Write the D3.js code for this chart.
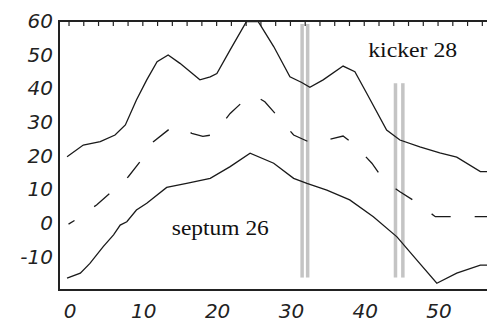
<!DOCTYPE html>
<html>
<head>
<meta charset="utf-8">
<script src="https://cdn.jsdelivr.net/npm/d3@7"></script>
<style>
  body { margin: 0; background: #fff; }
  svg { display: block; }
</style>
</head>
<body>
<div id="chart"></div>
<script>
// values
var kickerX = [-0.2, 2.0, 4.3, 6.3, 7.7, 9.2, 10.6, 12.0, 13.5, 15.1, 17.8, 19.2, 20.1, 21.9, 24.1, 25.7, 26.0, 27.8, 30.0, 31.6, 32.7, 34.5, 37.2, 38.8, 40.4, 43.1, 44.9, 47.6, 50.3, 52.6, 55.8, 56.7]
var kickerY = [19.6, 23.1, 24.1, 26.1, 29.1, 36.5, 42.5, 47.9, 49.9, 47.4, 42.5, 43.4, 44.4, 51.4, 59.8, 59.8, 58.8, 52.4, 43.4, 41.7, 40.3, 42.5, 46.6, 44.9, 38.5, 27.6, 24.6, 22.6, 20.8, 19.5, 15.2, 15.2]

var middleX = [0, 0.9, 3.8, 5.6, 8.1, 9.7, 11.5, 13.8, 15.2, 16.7, 18.2, 19.4, 20.1, 21.9, 24.1, 25.3, 26.6, 28.4, 30.5, 33.0, 35.9, 37.2, 38.8, 41.1, 42.7, 44.9, 47.0, 49.7, 51.9, 56.7]
var middleY = [-0.4, 0.8, 5.3, 8.8, 13.7, 18.2, 24.1, 28.1, 28.5, 26.6, 25.7, 26.1, 27.4, 32.5, 37.0, 37.7, 36.0, 31.5, 26.1, 23.6, 25.1, 25.8, 23.1, 17.7, 12.7, 9.2, 6.3, 1.8, 1.8, 1.8]

var septumX = [-0.2, 1.6, 2.9, 4.7, 6.1, 7.0, 7.9, 9.2, 10.6, 13.3, 16.0, 19.2, 21.9, 24.6, 27.8, 30.5, 32.3, 35.0, 38.1, 41.3, 44.5, 47.2, 49.9, 52.6, 55.8, 56.7]
var septumY = [-16.5, -15.0, -12.1, -7.1, -3.6, -0.7, 0.3, 3.8, 5.8, 10.5, 11.7, 13.2, 16.7, 20.7, 17.7, 13.2, 11.7, 9.7, 6.8, 1.8, -4.2, -11.1, -18.0, -15.0, -12.6, -12.6]

// grey marker columns
var markerX = [31.65, 32.4, 44.3, 45.3]
var markerTop = [59.1, 59.1, 41.5, 41.5]
var markerBottom = -16.3

var xTicks = [0, 10, 20, 30, 40, 50]
var yTicks = [60, 50, 40, 30, 20, 10, 0, -10]
var labels = ["kicker 28", "septum 26"]
var labelX = [40.6, 14.0]
var labelY = [49.3, -3.6]

var width = 487, height = 322
var plot = {left: 59, top: 21, right: 487, bottom: 290}

var x = d3.scaleLinear().domain([-1.29, 56.7]).range([plot.left, plot.right])
var y = d3.scaleLinear().domain([-20, 60]).range([plot.bottom, plot.top])

var svg = d3.select("#chart").append("svg")
    .attr("width", width)
    .attr("height", height)

svg.append("rect").attr("width", width).attr("height", height).attr("fill", "#fff")

// marker columns
markerX.forEach(function(mx, i) {
  svg.append("line")
      .attr("x1", x(mx)).attr("x2", x(mx))
      .attr("y1", y(markerTop[i])).attr("y2", y(markerBottom))
      .attr("stroke", "#c4c4c4")
      .attr("stroke-width", 3.5)
})

function zip(xs, ys) {
  return xs.map(function(v, i) { return [v, ys[i]] })
}

var line = d3.line()
    .x(function(d) { return x(d[0]) })
    .y(function(d) { return y(d[1]) })

svg.append("path")
    .attr("d", line(zip(kickerX, kickerY)))
    .attr("fill", "none")
    .attr("stroke", "#1a1a1a")
    .attr("stroke-width", 1.3)

svg.append("path")
    .attr("d", line(zip(septumX, septumY)))
    .attr("fill", "none")
    .attr("stroke", "#1a1a1a")
    .attr("stroke-width", 1.3)

svg.append("path")
    .attr("d", line(zip(middleX, middleY)))
    .attr("fill", "none")
    .attr("stroke", "#1a1a1a")
    .attr("stroke-width", 1.3)
    .attr("stroke-dasharray", "20 24")
    .attr("stroke-dashoffset", 13)

// frame: left, top and bottom
svg.append("path")
    .attr("d", "M" + plot.right + "," + plot.top + "H" + plot.left + "V" + plot.bottom + "H" + plot.right)
    .attr("fill", "none")
    .attr("stroke", "#222")
    .attr("stroke-width", 2)

// small ticks hanging from the top line
var topAxis = d3.axisTop(x)
    .tickValues(d3.range(0, 57, 2))
    .tickSize(-5)
    .tickFormat("")
var gt = svg.append("g")
    .attr("transform", "translate(0," + plot.top + ")")
    .call(topAxis)
gt.select(".domain").remove()
gt.selectAll(".tick line").attr("stroke", "#222").attr("stroke-width", 1.2)

// tick labels
svg.selectAll("text.ylab")
    .data(yTicks)
    .enter().append("text")
    .attr("class", "ylab")
    .attr("x", 53)
    .attr("y", function(d) { return y(d) })
    .attr("dy", "0.36em")
    .attr("text-anchor", "end")
    .attr("font-family", "DejaVu Sans")
    .attr("font-style", "italic")
    .attr("font-size", "20px")
    .attr("fill", "#222")
    .text(function(d) { return d })

svg.selectAll("text.xlab")
    .data(xTicks)
    .enter().append("text")
    .attr("class", "xlab")
    .attr("x", function(d) { return x(d) + 1.5 })
    .attr("y", 318)
    .attr("text-anchor", "middle")
    .attr("font-family", "DejaVu Sans")
    .attr("font-style", "italic")
    .attr("font-size", "20px")
    .attr("fill", "#222")
    .text(function(d) { return d })

// annotations
var labelLen = [89, 97]
svg.selectAll("text.note")
    .data(labels)
    .enter().append("text")
    .attr("class", "note")
    .attr("x", function(d, i) { return x(labelX[i]) })
    .attr("y", function(d, i) { return y(labelY[i]) })
    .style("font-family", "'Liberation Serif', 'DejaVu Serif', serif")
    .style("font-size", "22px")
    .attr("textLength", function(d, i) { return labelLen[i] })
    .attr("lengthAdjust", "spacingAndGlyphs")
    .attr("fill", "#111")
    .text(function(d) { return d })
</script>
</body>
</html>
